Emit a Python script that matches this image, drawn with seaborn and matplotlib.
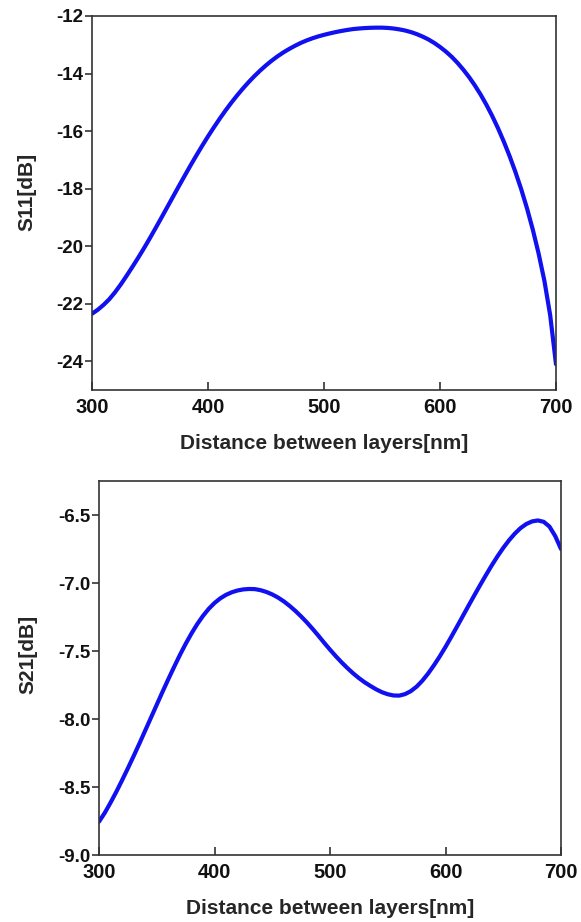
import matplotlib
matplotlib.use("Agg")
import matplotlib.pyplot as plt
import seaborn as sns
import pandas as pd

# ---------------- data ----------------
distance_nm = list(range(300, 701, 5))

s11_db = [-22.35, -22.21, -22.04, -21.84, -21.595, -21.32, -21.02, -20.71, -20.39, -20.06,
          -19.715, -19.36, -19.00, -18.635, -18.27, -17.905, -17.545, -17.19, -16.845, -16.51,
          -16.185, -15.875, -15.575, -15.29, -15.02, -14.765, -14.525, -14.30, -14.09, -13.895,
          -13.715, -13.55, -13.40, -13.265, -13.145, -13.035, -12.935, -12.85, -12.775, -12.71,
          -12.655, -12.605, -12.56, -12.52, -12.485, -12.455, -12.435, -12.42, -12.41, -12.405,
          -12.405, -12.415, -12.435, -12.465, -12.505, -12.56, -12.63, -12.715, -12.815, -12.935,
          -13.075, -13.235, -13.415, -13.625, -13.86, -14.12, -14.41, -14.73, -15.085, -15.475,
          -15.90, -16.365, -16.87, -17.42, -18.02, -18.685, -19.425, -20.255, -21.205, -22.405,
          -24.105]

s21_db = [-8.755, -8.69, -8.615, -8.535, -8.45, -8.3625, -8.2725, -8.18, -8.085, -7.99,
          -7.895, -7.80, -7.7075, -7.6175, -7.53, -7.448, -7.372, -7.303, -7.242, -7.19,
          -7.147, -7.113, -7.087, -7.068, -7.055, -7.047, -7.044, -7.045, -7.053, -7.066,
          -7.084, -7.107, -7.135, -7.168, -7.205, -7.246, -7.29, -7.338, -7.388, -7.44,
          -7.49, -7.538, -7.583, -7.625, -7.664, -7.699, -7.73, -7.757, -7.782, -7.803,
          -7.818, -7.827, -7.828, -7.817, -7.795, -7.762, -7.718, -7.665, -7.605, -7.54,
          -7.47, -7.396, -7.32, -7.243, -7.166, -7.09, -7.015, -6.942, -6.871, -6.804,
          -6.742, -6.686, -6.637, -6.596, -6.566, -6.547, -6.54, -6.55, -6.585, -6.655,
          -6.75]

x_ticks = [300, 400, 500, 600, 700]
s11_ticks = [-24, -22, -20, -18, -16, -14, -12]
s21_ticks = [-9.0, -8.5, -8.0, -7.5, -7.0, -6.5]

x_label = "Distance between layers[nm]"
s11_label = "S11[dB]"
s21_label = "S21[dB]"

# ---------------- style ----------------
sns.set_style("ticks")
plt.rcParams["font.family"] = ["Liberation Sans", "DejaVu Sans"]
plt.rcParams["font.weight"] = "bold"

line_color = "#1010f0"
spine_color = "#333333"

fig = plt.figure(figsize=(5.81, 9.22), dpi=100)
ax1 = fig.add_axes([92 / 581, 1 - 390 / 922, 464 / 581, 374 / 922])
ax2 = fig.add_axes([99 / 581, 1 - 855 / 922, 462 / 581, 374 / 922])

df = pd.DataFrame({"d": distance_nm, "s11": s11_db, "s21": s21_db})

sns.lineplot(data=df, x="d", y="s11", ax=ax1, color=line_color, linewidth=3.0)
sns.lineplot(data=df, x="d", y="s21", ax=ax2, color=line_color, linewidth=3.0)

for ax, yt, ylim, ylab, fmt, lc in [
    (ax1, s11_ticks, (-25, -12), s11_label, "{:.0f}", (-0.12, 0.53)),
    (ax2, s21_ticks, (-9.0, -6.25), s21_label, "{:.1f}", (-0.133, 0.535)),
]:
    ax.set_xlim(300, 700)
    ax.set_ylim(*ylim)
    ax.set_xticks(x_ticks)
    ax.set_xticklabels([str(t) for t in x_ticks], fontsize=14.5, fontweight="bold")
    ax.set_yticks(yt)
    ax.set_yticklabels([fmt.format(t) for t in yt], fontsize=13.5, fontweight="bold")
    ax.set_xlabel(x_label, fontsize=15, fontweight="bold", labelpad=12)
    ax.set_ylabel(ylab, fontsize=15, fontweight="bold")
    ax.yaxis.set_label_coords(*lc)
    ax.tick_params(axis="x", direction="in", length=6, width=1.2, pad=6, colors=spine_color,
                   labelcolor="#111111")
    ax.tick_params(axis="y", direction="out", length=5, width=1.2, pad=1, colors=spine_color,
                   labelcolor="#111111")
    for s in ax.spines.values():
        s.set_visible(True)
        s.set_color(spine_color)
        s.set_linewidth(1.2)
    ax.grid(False)

fig.savefig("out.png", dpi=100)
